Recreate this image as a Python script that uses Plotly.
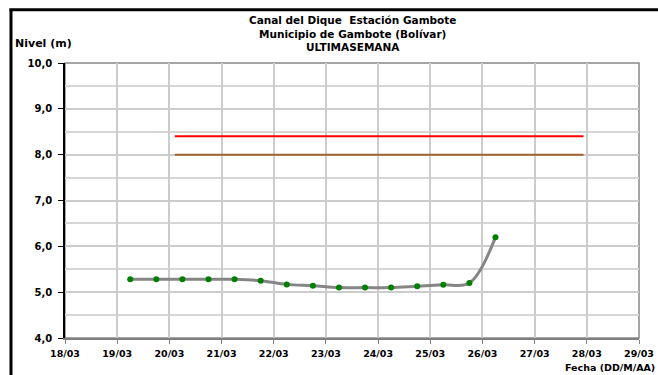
import plotly.graph_objects as go

# nivel del rio, lecturas cada 12 horas
fechas = ['2024-03-19 06:00', '2024-03-19 18:00', '2024-03-20 06:00', '2024-03-20 18:00',
          '2024-03-21 06:00', '2024-03-21 18:00', '2024-03-22 06:00', '2024-03-22 18:00',
          '2024-03-23 06:00', '2024-03-23 18:00', '2024-03-24 06:00', '2024-03-24 18:00',
          '2024-03-25 06:00', '2024-03-25 18:00', '2024-03-26 06:00']
nivel = [5.28, 5.28, 5.28, 5.28, 5.28, 5.25, 5.17, 5.14, 5.10, 5.10,
         5.10, 5.13, 5.16, 5.20, 6.20]

# cotas de alerta
alerta_fechas = ['2024-03-20 02:30', '2024-03-27 22:30']
alerta_roja = [8.4, 8.4]
alerta_naranja = [8.0, 8.0]

x_range = ['2024-03-18', '2024-03-29']
y_range = [4, 10]
titulo = ['Canal del Dique  Estación Gambote', 'Municipio de Gambote (Bolívar)', 'ULTIMASEMANA']

FONT = 'DejaVu Sans'


def bold(size):
    return dict(family=FONT, size=size, color='black', weight='bold')


fig = go.Figure()
fig.add_trace(go.Scatter(x=alerta_fechas, y=alerta_roja, mode='lines',
                         line=dict(color='#ff0000', width=2), hoverinfo='skip'))
fig.add_trace(go.Scatter(x=alerta_fechas, y=alerta_naranja, mode='lines',
                         line=dict(color='#a0632e', width=2), hoverinfo='skip'))
fig.add_trace(go.Scatter(x=fechas, y=nivel, mode='lines',
                         line=dict(color='#858585', width=3, shape='spline', smoothing=1)))
fig.add_trace(go.Scatter(x=fechas, y=nivel, mode='markers',
                         marker=dict(color='#008000', size=6)))

annotations = [
    # titulo en tres lineas, centrado sobre el area de trazado
    dict(text='<br>'.join(titulo), xref='paper', yref='paper', x=0.5, y=1.108,
         xanchor='center', yanchor='middle', showarrow=False, font=bold(10.5)),
    dict(text='Nivel (m)', xref='paper', yref='paper', x=-0.0911, y=1.0727,
         xanchor='left', yanchor='middle', showarrow=False, font=bold(11)),
    dict(text='Fecha (DD/M/AA)', xref='paper', yref='paper', x=1.0308, y=-0.107,
         xanchor='right', yanchor='middle', showarrow=False, font=bold(9.5)),
]

fig.update_layout(
    autosize=False, width=658, height=375,
    margin=dict(l=65, r=19, t=63, b=37, autoexpand=False),
    paper_bgcolor='white', plot_bgcolor='white',
    showlegend=False,
    separators=',.',
    font=bold(10),
    shapes=[
        # marco exterior
        dict(type='line', xref='paper', yref='paper', x0=-0.097, x1=1.05, y0=1.1938, y1=1.1938,
             line=dict(color='black', width=3)),
        dict(type='line', xref='paper', yref='paper', x0=-0.0941, x1=-0.0941, y0=-0.2, y1=1.1938,
             line=dict(color='black', width=3)),
        # borde del area de trazado
        dict(type='rect', xref='paper', yref='paper', x0=0, x1=1, y0=0, y1=1,
             line=dict(color='#888888', width=1.5), layer='below'),
    ],
    annotations=annotations,
)

fig.update_xaxes(
    type='date', range=x_range, dtick=86400000, tickformat='%d/%m',
    showgrid=True, gridcolor='#cccccc', gridwidth=1.5,
    showline=True, linecolor='#808080', linewidth=2,
    ticks='outside', ticklen=4, tickcolor='#808080',
    tickfont=bold(9.5), ticklabelstandoff=2, zeroline=False, automargin=False,
)
fig.update_yaxes(
    range=y_range, dtick=1, tickformat='.1f',
    showgrid=True, gridcolor='#cccccc', gridwidth=1.5,
    minor=dict(dtick=0.5, showgrid=True, gridcolor='#d6d6d6', gridwidth=1.5),
    showline=True, linecolor='black', linewidth=1.5,
    ticks='outside', ticklen=5, tickcolor='black',
    tickfont=bold(10), ticklabelstandoff=4, zeroline=False, automargin=False,
)

fig.write_html('out.html', config={'displayModeBar': False, 'responsive': False},
               post_script="document.body.style.margin='0';document.body.style.overflow='hidden';")
